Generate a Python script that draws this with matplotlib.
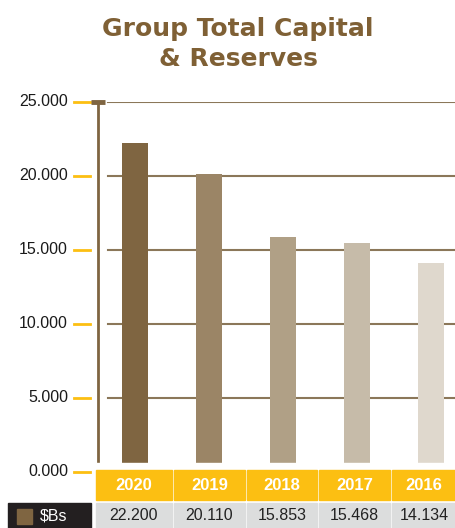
import matplotlib.pyplot as plt
from matplotlib.patches import Rectangle

plt.rcParams['font.family'] = ['Liberation Sans', 'DejaVu Sans']

# data
years = ['2020', '2019', '2018', '2017', '2016']
capital = [22200, 20110, 15853, 15468, 14134]
value_labels = ['22.200', '20.110', '15.853', '15.468', '14.134']
yticks = [0, 5000, 10000, 15000, 20000, 25000]
ytick_labels = ['0.000', '5.000', '10.000', '15.000', '20.000', '25.000']
series_name = '$Bs'

bar_colors = ['#7f6541', '#9b8566', '#b0a086', '#c6bba9', '#dfd8cd']
brown = '#7f6541'
grid_brown = '#8b7759'
yellow = '#fcbf12'
title_color = '#7f6035'

W, H = 456, 528
fig = plt.figure(figsize=(W / 100, H / 100), dpi=100)

def px(x0, y0, x1, y1):
    # figure rect from pixel box (top-left origin)
    return [x0 / W, 1 - y1 / H, (x1 - x0) / W, (y1 - y0) / H]

# main bar axes
ax = fig.add_axes(px(98, 102, 456, 472))
xs = range(len(years))
ax.bar(xs, capital, width=0.35, color=bar_colors, zorder=3)
ax.set_xlim(-0.5, 4.34)
ax.set_ylim(0, 25000)
for s in ax.spines.values():
    s.set_visible(False)
ax.set_xticks([])
ax.set_yticks([])

ytr = ax.get_yaxis_transform()
for v, lab in zip(yticks, ytick_labels):
    if v > 0:
        ax.plot([0.028, 1], [v, v], transform=ytr, color=grid_brown, lw=1.5, zorder=1)
    ax.plot([-0.067, -0.022], [v, v], transform=ytr, color=yellow, lw=2, clip_on=False)
    ax.text(-0.084, v, lab, transform=ytr, ha='right', va='center', fontsize=11.5, color='#1a1a1a')

# axis line with cap
ax.plot([0, 0], [600, 25000], transform=ytr, color=brown, lw=2, clip_on=False, zorder=4)
ax.plot([-0.02, 0.02], [25000, 25000], transform=ytr, color=brown, lw=3.5, clip_on=False,
        solid_capstyle='butt', zorder=4)

# title
fig.text(238 / W, 1 - 44 / H, 'Group Total Capital\n& Reserves', ha='center', va='center',
         fontsize=18, fontweight='bold', color=title_color, family=['DejaVu Sans'],
         linespacing=1.3)

# table below the chart
tab = fig.add_axes([0, 0, 1, 1], facecolor='none')
tab.set_xlim(0, W)
tab.set_ylim(H, 0)
tab.axis('off')
tab.add_patch(Rectangle((96, 463), W - 96, 7, color='white'))
edges = [(96, 172), (174, 245), (247, 317), (319, 390), (392, 456)]
for (x0, x1), yr, val in zip(edges, years, value_labels):
    tab.add_patch(Rectangle((x0, 470), x1 - x0, 30, color=yellow))
    tab.text((x0 + x1) / 2, 485.5, yr, ha='center', va='center', color='white',
             fontsize=12, fontweight='bold')
    tab.add_patch(Rectangle((x0, 503), x1 - x0, 25, color='#dcdddd'))
    tab.text((x0 + x1) / 2, 516, val, ha='center', va='center', color='#222222', fontsize=11.5)

tab.add_patch(Rectangle((8, 503), 83, 25, color='#231f20'))
tab.add_patch(Rectangle((17, 509), 15, 15, color=brown))
tab.text(40, 516.5, series_name, ha='left', va='center', color='white', fontsize=11.5)

fig.savefig('out.png', dpi=100)
